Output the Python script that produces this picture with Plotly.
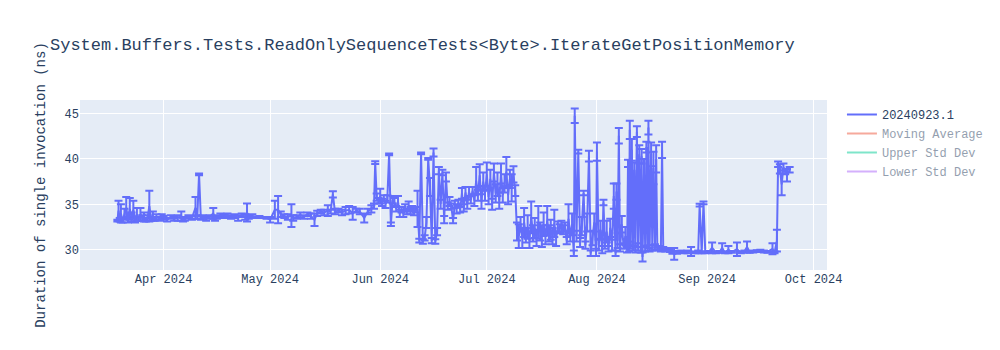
import plotly.graph_objects as go

# ---- data (estimated) ----
mar_dates = ["2024-03-19 00:00", "2024-03-19 08:00", "2024-03-19 16:00", "2024-03-20 00:00", "2024-03-20 12:00",
             "2024-03-21 00:00", "2024-03-21 12:00", "2024-03-22 00:00", "2024-03-22 12:00", "2024-03-23 00:00",
             "2024-03-23 12:00", "2024-03-24 00:00", "2024-03-24 12:00", "2024-03-25 00:00", "2024-03-25 12:00",
             "2024-03-26 00:00", "2024-03-26 12:00", "2024-03-27 00:00", "2024-03-27 12:00", "2024-03-28 00:00",
             "2024-03-28 12:00", "2024-03-29 00:00", "2024-03-29 12:00", "2024-03-30 00:00", "2024-03-31 00:00",
             "2024-03-31 12:00"]
mar_values = [33.2, 34.3, 33.3, 34.0, 33.2, 33.9, 34.6, 33.3, 34.5, 33.6,
              34.4, 33.3, 33.9, 33.4, 33.9, 33.5, 33.6, 33.3, 33.5, 34.8,
              33.4, 33.7, 33.4, 33.6, 33.4, 33.7]
mar_errors = [0.1, 1.1, 0.2, 1.0, 0.2, 0.6, 1.2, 0.3, 1.2, 0.5,
              1.0, 0.3, 0.7, 0.2, 0.7, 0.3, 0.5, 0.2, 0.3, 1.7,
              0.2, 0.5, 0.2, 0.3, 0.2, 0.2]

apr_dates = ["2024-04-01 00:00", "2024-04-02 00:00", "2024-04-03 00:00", "2024-04-04 00:00", "2024-04-05 00:00",
             "2024-04-06 00:00", "2024-04-06 12:00", "2024-04-07 00:00", "2024-04-08 00:00", "2024-04-09 00:00",
             "2024-04-10 00:00", "2024-04-10 12:00", "2024-04-11 00:00", "2024-04-11 12:00", "2024-04-12 00:00",
             "2024-04-13 00:00", "2024-04-14 00:00", "2024-04-15 00:00", "2024-04-15 12:00", "2024-04-16 00:00",
             "2024-04-17 00:00", "2024-04-18 00:00", "2024-04-19 00:00", "2024-04-20 00:00", "2024-04-21 00:00",
             "2024-04-22 00:00", "2024-04-23 00:00", "2024-04-24 00:00", "2024-04-24 12:00", "2024-04-25 00:00",
             "2024-04-26 00:00", "2024-04-28 00:00", "2024-04-30 00:00"]
apr_values = [33.5, 33.3, 33.6, 33.4, 33.5, 33.7, 33.3, 33.4, 33.6, 33.5,
              34.6, 33.6, 38.3, 33.5, 33.6, 33.4, 33.6, 34.0, 33.4, 33.6,
              33.8, 33.7, 33.8, 33.6, 33.7, 33.5, 33.8, 33.6, 34.1, 33.6,
              33.7, 33.6, 33.5]
apr_errors = [0.2, 0.2, 0.2, 0.2, 0.3, 0.5, 0.2, 0.2, 0.2, 0.2,
              1.2, 0.2, 0.1, 0.2, 0.2, 0.2, 0.2, 0.6, 0.2, 0.2,
              0.2, 0.2, 0.2, 0.2, 0.2, 0.3, 0.2, 0.3, 1.0, 0.2,
              0.2, 0.1, 0.1]

may_dates = ["2024-05-01 00:00", "2024-05-02 08:00", "2024-05-03 06:00", "2024-05-04 00:00", "2024-05-05 00:00",
             "2024-05-06 00:00", "2024-05-07 00:00", "2024-05-07 12:00", "2024-05-08 12:00", "2024-05-09 12:00",
             "2024-05-10 12:00", "2024-05-11 12:00", "2024-05-12 12:00", "2024-05-13 12:00", "2024-05-14 06:00",
             "2024-05-15 06:00", "2024-05-16 06:00", "2024-05-17 06:00", "2024-05-18 00:00", "2024-05-18 16:00",
             "2024-05-19 06:00", "2024-05-20 06:00", "2024-05-21 06:00", "2024-05-22 06:00", "2024-05-23 06:00",
             "2024-05-24 06:00", "2024-05-25 06:00", "2024-05-26 06:00", "2024-05-27 12:00", "2024-05-28 12:00",
             "2024-05-29 12:00", "2024-05-30 06:00", "2024-05-30 14:00", "2024-05-31 00:00", "2024-05-31 12:00"]
may_values = [33.3, 34.4, 34.4, 33.9, 33.7, 33.6, 33.75, 33.5, 33.6, 33.8,
              33.6, 33.9, 33.7, 33.3, 34.0, 34.2, 34.1, 34.3, 34.2, 36.1,
              34.2, 34.3, 34.1, 34.3, 34.4, 34.0, 34.3, 34.2, 33.5, 34.2,
              34.5, 34.8, 39.6, 35.8, 35.4]
may_errors = [0.3, 1.0, 1.5, 0.3, 0.2, 0.3, 1.25, 0.3, 0.2, 0.3,
              0.2, 0.2, 0.3, 0.7, 0.3, 0.2, 0.3, 0.6, 0.2, 0.35,
              0.3, 0.2, 0.3, 0.4, 0.4, 0.7, 0.2, 0.3, 0.5, 0.3,
              0.4, 0.3, 0.15, 0.4, 0.3]

jun_dates = ["2024-06-01 00:00", "2024-06-01 12:00", "2024-06-02 00:00", "2024-06-02 12:00", "2024-06-03 00:00",
             "2024-06-03 12:00", "2024-06-04 00:00", "2024-06-04 12:00", "2024-06-05 00:00", "2024-06-05 12:00",
             "2024-06-06 00:00", "2024-06-06 12:00", "2024-06-07 00:00", "2024-06-07 12:00", "2024-06-08 00:00",
             "2024-06-08 12:00", "2024-06-09 00:00", "2024-06-09 12:00", "2024-06-10 00:00", "2024-06-10 12:00",
             "2024-06-11 00:00", "2024-06-11 12:00", "2024-06-12 00:00", "2024-06-12 12:00", "2024-06-13 00:00",
             "2024-06-13 12:00", "2024-06-14 00:00", "2024-06-14 12:00", "2024-06-15 00:00", "2024-06-15 12:00",
             "2024-06-16 00:00", "2024-06-16 12:00", "2024-06-17 00:00", "2024-06-17 12:00", "2024-06-18 00:00",
             "2024-06-18 12:00", "2024-06-19 00:00", "2024-06-19 12:00", "2024-06-20 00:00", "2024-06-20 12:00",
             "2024-06-21 00:00", "2024-06-21 12:00", "2024-06-22 00:00", "2024-06-22 12:00", "2024-06-23 00:00",
             "2024-06-23 12:00", "2024-06-24 00:00", "2024-06-24 12:00", "2024-06-25 00:00", "2024-06-25 12:00",
             "2024-06-26 00:00", "2024-06-26 12:00", "2024-06-27 00:00", "2024-06-27 12:00", "2024-06-28 00:00",
             "2024-06-28 12:00", "2024-06-29 00:00", "2024-06-29 12:00", "2024-06-30 00:00", "2024-06-30 12:00"]
jun_values = [35.9, 35.2, 35.7, 35.0, 35.6, 40.5, 32.8, 35.5, 35.2, 34.5,
              35.3, 34.0, 34.4, 34.0, 34.6, 34.2, 34.8, 34.3, 34.5, 34.2,
              34.4, 34.5, 31.0, 40.6, 30.9, 31.3, 33.0, 40.0, 36.9, 31.0,
              40.7, 30.9, 32.0, 38.7, 35.0, 38.5, 33.3, 38.0, 34.8, 35.3,
              34.8, 33.2, 35.0, 34.5, 35.2, 34.4, 36.2, 34.6, 36.3, 35.0,
              36.4, 35.5, 36.5, 35.4, 37.6, 36.0, 38.2, 35.3, 37.5, 36.2]
jun_errors = [0.8, 0.4, 0.3, 0.4, 0.4, 0.1, 0.2, 0.4, 0.5, 0.3,
              0.6, 0.4, 0.3, 0.4, 0.4, 0.3, 0.5, 0.4, 0.3, 0.4,
              0.3, 2.0, 0.2, 0.1, 0.25, 0.3, 0.6, 0.1, 1.0, 0.3,
              0.45, 0.25, 0.4, 0.4, 0.5, 0.3, 0.4, 0.5, 0.4, 0.5,
              0.3, 0.3, 0.4, 0.5, 0.3, 0.3, 0.6, 0.4, 0.6, 0.5,
              0.5, 0.4, 0.4, 0.6, 1.5, 0.6, 1.2, 0.8, 1.0, 0.8]

jul_dates = ["2024-07-01 00:00", "2024-07-01 12:00", "2024-07-02 00:00", "2024-07-02 12:00", "2024-07-03 00:00",
             "2024-07-03 12:00", "2024-07-04 00:00", "2024-07-04 12:00", "2024-07-05 00:00", "2024-07-05 12:00",
             "2024-07-06 00:00", "2024-07-06 12:00", "2024-07-07 00:00", "2024-07-07 12:00", "2024-07-08 00:00",
             "2024-07-08 12:00", "2024-07-09 00:00", "2024-07-09 12:00", "2024-07-10 00:00", "2024-07-10 12:00",
             "2024-07-11 00:00", "2024-07-11 12:00", "2024-07-12 00:00", "2024-07-12 12:00", "2024-07-13 00:00",
             "2024-07-13 12:00", "2024-07-14 00:00", "2024-07-14 12:00", "2024-07-15 00:00", "2024-07-15 12:00",
             "2024-07-16 00:00", "2024-07-16 12:00", "2024-07-17 00:00", "2024-07-17 12:00", "2024-07-18 00:00",
             "2024-07-18 12:00", "2024-07-19 00:00", "2024-07-19 12:00", "2024-07-20 00:00", "2024-07-20 12:00",
             "2024-07-21 00:00", "2024-07-21 12:00", "2024-07-22 00:00", "2024-07-22 12:00", "2024-07-23 00:00",
             "2024-07-23 12:00", "2024-07-24 00:00", "2024-07-24 12:00", "2024-07-25 00:00", "2024-07-25 12:00",
             "2024-07-25 18:00", "2024-07-26 06:00", "2024-07-26 18:00", "2024-07-27 06:00", "2024-07-27 18:00",
             "2024-07-28 06:00", "2024-07-28 18:00", "2024-07-29 06:00", "2024-07-29 18:00", "2024-07-30 06:00",
             "2024-07-30 18:00", "2024-07-31 06:00", "2024-07-31 18:00"]
jul_values = [38.3, 35.8, 37.8, 35.0, 38.5, 36.2, 37.2, 35.4, 38.4, 36.0,
              37.3, 38.6, 36.0, 37.8, 36.8, 38.3, 36.5, 32.0, 31.5, 32.8,
              31.2, 33.0, 31.6, 32.5, 31.0, 33.6, 31.8, 32.4, 31.3, 33.0,
              32.0, 31.5, 32.8, 31.4, 33.2, 31.8, 32.2, 31.5, 32.9, 31.2,
              32.5, 32.3, 32.6, 32.2, 32.5, 31.0, 33.4, 31.5, 32.8, 29.6,
              44.75, 31.5, 40.8, 30.8, 32.6, 36.25, 30.5, 33.0, 40.3, 29.6,
              31.3, 33.0, 29.7]
jul_errors = [1.3, 0.8, 1.0, 0.6, 1.0, 1.0, 1.3, 0.9, 1.1, 0.8,
              1.0, 1.6, 1.0, 1.0, 1.5, 0.9, 0.6, 1.0, 1.3, 0.8,
              1.0, 1.6, 0.8, 1.3, 0.8, 1.7, 0.9, 1.1, 0.9, 1.8,
              1.0, 1.2, 1.3, 0.8, 1.6, 0.9, 1.1, 0.9, 1.5, 0.8,
              0.6, 0.5, 0.6, 0.5, 0.5, 0.4, 1.6, 0.6, 1.2, 0.3,
              0.8, 0.6, 0.2, 0.5, 1.0, 0.25, 0.4, 1.0, 0.6, 0.3,
              0.8, 1.0, 0.4]

aug_dates = ["2024-08-01 00:00", "2024-08-01 12:00", "2024-08-02 00:00", "2024-08-02 12:00", "2024-08-02 20:00",
             "2024-08-03 06:00", "2024-08-03 18:00", "2024-08-04 06:00", "2024-08-04 18:00", "2024-08-05 06:00",
             "2024-08-05 18:00", "2024-08-06 06:00", "2024-08-06 12:00", "2024-08-06 20:00", "2024-08-07 04:00",
             "2024-08-07 12:00", "2024-08-08 00:00", "2024-08-08 12:00", "2024-08-09 00:00", "2024-08-09 12:00",
             "2024-08-09 18:00", "2024-08-10 00:00", "2024-08-10 06:00", "2024-08-10 12:00", "2024-08-10 20:00",
             "2024-08-11 04:00", "2024-08-11 12:00", "2024-08-11 20:00", "2024-08-12 06:00", "2024-08-12 14:00",
             "2024-08-12 22:00", "2024-08-13 08:00", "2024-08-13 14:00", "2024-08-13 20:00", "2024-08-14 06:00",
             "2024-08-14 14:00", "2024-08-14 22:00", "2024-08-15 06:00", "2024-08-15 12:00", "2024-08-15 20:00",
             "2024-08-16 06:00", "2024-08-16 14:00", "2024-08-16 22:00", "2024-08-17 08:00", "2024-08-17 16:00",
             "2024-08-18 00:00", "2024-08-18 12:00", "2024-08-19 00:00", "2024-08-19 08:00", "2024-08-19 16:00",
             "2024-08-20 06:00", "2024-08-20 18:00", "2024-08-21 12:00", "2024-08-22 06:00", "2024-08-22 18:00",
             "2024-08-23 12:00", "2024-08-24 12:00", "2024-08-25 12:00", "2024-08-26 12:00", "2024-08-27 12:00",
             "2024-08-28 12:00", "2024-08-29 12:00", "2024-08-29 22:00", "2024-08-30 12:00", "2024-08-31 00:00",
             "2024-08-31 12:00"]
aug_values = [40.8, 30.5, 32.2, 30.0, 35.2, 30.6, 32.0, 30.1, 32.4, 30.5,
              35.9, 29.6, 36.4, 31.0, 42.55, 30.2, 32.8, 30.4, 31.5, 30.0,
              39.5, 30.1, 43.2, 30.5, 41.0, 30.2, 38.8, 30.0, 43.0, 30.3,
              40.5, 30.0, 40.3, 29.2, 38.5, 30.1, 41.3, 30.2, 43.45, 30.0,
              40.5, 30.2, 39.0, 30.3, 40.0, 30.1, 30.2, 30.0, 41.0, 30.1,
              30.0, 30.05, 29.9, 29.7, 29.55, 29.7, 29.8, 29.7, 29.75, 29.8,
              29.7, 29.75, 34.9, 29.7, 35.15, 29.7]
aug_errors = [1.0, 0.6, 1.0, 0.4, 0.3, 0.5, 1.2, 0.3, 1.0, 0.6,
              1.4, 0.3, 0.9, 0.8, 0.85, 0.4, 0.9, 0.3, 1.0, 0.3,
              0.4, 0.3, 1.0, 0.4, 1.2, 0.3, 0.8, 0.3, 0.6, 0.4,
              1.0, 0.3, 0.8, 0.5, 1.5, 0.3, 0.6, 0.3, 0.75, 0.2,
              1.3, 0.3, 1.8, 0.3, 1.5, 0.2, 0.2, 0.2, 0.9, 0.2,
              0.2, 0.15, 0.15, 0.15, 0.65, 0.15, 0.1, 0.1, 0.15, 0.5,
              0.1, 0.15, 0.15, 0.1, 0.15, 0.1]

sep_dates = ["2024-09-01 12:00", "2024-09-02 10:00", "2024-09-03 12:00", "2024-09-04 12:00", "2024-09-05 06:00",
             "2024-09-06 00:00", "2024-09-07 00:00", "2024-09-08 00:00", "2024-09-09 10:00", "2024-09-10 12:00",
             "2024-09-11 12:00", "2024-09-12 06:00", "2024-09-13 00:00", "2024-09-14 00:00", "2024-09-15 00:00",
             "2024-09-16 00:00", "2024-09-17 00:00", "2024-09-18 00:00", "2024-09-19 10:00", "2024-09-20 00:00",
             "2024-09-20 16:00", "2024-09-21 00:00", "2024-09-21 12:00", "2024-09-22 00:00", "2024-09-22 12:00",
             "2024-09-23 00:00", "2024-09-23 12:00", "2024-09-24 06:00"]
sep_values = [29.75, 30.2, 29.7, 29.75, 30.2, 29.7, 30.0, 29.75, 30.05, 29.7,
              29.8, 30.3, 29.75, 29.8, 29.85, 29.9, 29.8, 29.75, 30.1, 29.7,
              31.0, 39.4, 38.9, 37.2, 39.1, 38.6, 38.2, 38.8]
sep_errors = [0.1, 0.6, 0.1, 0.1, 0.5, 0.1, 0.4, 0.1, 0.75, 0.1,
              0.1, 0.6, 0.1, 0.1, 0.1, 0.1, 0.1, 0.1, 0.6, 0.1,
              1.2, 0.3, 0.5, 1.2, 0.4, 0.3, 0.7, 0.3]

# hidden (legend-only) reference lines, rough estimates
band_dates = ["2024-03-19", "2024-04-15", "2024-05-15", "2024-06-15", "2024-07-15", "2024-08-15", "2024-09-24"]
moving_average = [33.6, 33.7, 34.0, 35.0, 33.5, 32.5, 31.0]
upper_std = [34.4, 34.5, 34.8, 37.0, 36.0, 37.5, 35.0]
lower_std = [32.8, 32.9, 33.2, 33.0, 31.0, 27.5, 27.0]

series_name = "20240923.1"
title_text = "System.Buffers.Tests.ReadOnlySequenceTests<Byte>.IterateGetPositionMemory"
y_title = "Duration of single invocation (ns)"

run_dates = mar_dates + apr_dates + may_dates + jun_dates + jul_dates + aug_dates + sep_dates
durations = mar_values + apr_values + may_values + jun_values + jul_values + aug_values + sep_values
errors = mar_errors + apr_errors + may_errors + jun_errors + jul_errors + aug_errors + sep_errors

fig = go.Figure()
fig.add_trace(go.Scatter(
    x=run_dates, y=durations, mode="lines", name=series_name,
    error_y=dict(type="data", array=errors, visible=True),
))
fig.add_trace(go.Scatter(x=band_dates, y=moving_average, mode="lines",
                         name="Moving Average", visible="legendonly"))
fig.add_trace(go.Scatter(x=band_dates, y=upper_std, mode="lines",
                         name="Upper Std Dev", visible="legendonly"))
fig.add_trace(go.Scatter(x=band_dates, y=lower_std, mode="lines",
                         name="Lower Std Dev", visible="legendonly"))

fig.update_layout(
    width=1000, height=350,
    title=dict(text=title_text),
    font=dict(family="Liberation Mono, Courier New, monospace"),
    yaxis=dict(title=dict(text=y_title)),
)

fig.write_html("out.html")
